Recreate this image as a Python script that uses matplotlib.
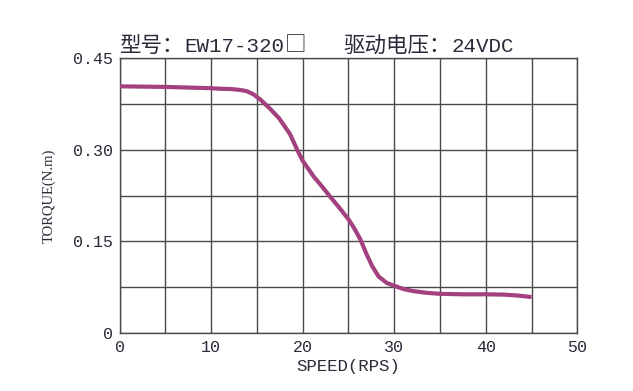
import numpy as np
import matplotlib.pyplot as plt

# speed (rps) / torque (N.m)
speed = [0, 5, 9.8, 11.0, 12.2, 13.2, 13.9, 14.6, 15.4, 16.45, 17.4, 18.6,
         19.4, 20.0, 21.2, 22.1, 23.0, 24.0, 25.0, 25.6, 26.3, 27.0, 27.6,
         28.3, 29.2, 30.0, 31.0, 32.0, 33.5, 35, 37.5, 40, 42, 43.5, 45]
torque = [0.404, 0.403, 0.401, 0.400, 0.3995, 0.398, 0.396, 0.391, 0.382,
          0.367, 0.352, 0.326, 0.300, 0.282, 0.256, 0.240, 0.223, 0.205,
          0.186, 0.172, 0.153, 0.128, 0.109, 0.092, 0.0815, 0.077, 0.0717,
          0.0685, 0.0655, 0.0638, 0.063, 0.063, 0.0625, 0.061, 0.0585]

xticks = [0, 10, 20, 30, 40, 50]
yticks = [0, 0.15, 0.30, 0.45]
ytick_labels = ["0", "0.15", "0.30", "0.45"]
# titulo em pedaços: (texto, fonte CJK?)
titulo = [("型号：", True), ("EW17-320", False), ("□", True), ("   ", False),
          ("驱动电压：", True), ("24VDC", False)]

cor_curva = '#a3407f'
cor_grade = '#4a4a4a'
cor_texto = '#2a2a3a'
fonte_mono = ['Liberation Mono']
fonte_cjk = ['Noto Sans CJK SC', 'DejaVu Sans']


def escrever_titulo(fig, x, y, pedacos):
    renderer = fig.canvas.get_renderer()
    for texto, cjk in pedacos:
        if cjk:
            t = fig.text(x, y, texto, family=fonte_cjk, fontsize=15.5,
                         color=cor_texto, ha='left', va='baseline')
        else:
            t = fig.text(x, y, texto, family=fonte_mono, fontsize=15,
                         color=cor_texto, ha='left', va='baseline')
        bb = t.get_window_extent(renderer)
        x += bb.width / fig.bbox.width


def main():
    fig = plt.figure(figsize=(6.33, 3.91), dpi=100)
    ax = fig.add_axes([0.189, 0.149, 0.723, 0.702])

    # grade: linhas a cada 5 rps e a cada 0.075 N.m
    for x in np.arange(0, 51, 5):
        ax.axvline(x, color=cor_grade, lw=1.0, zorder=1)
    for y in np.arange(0, 0.451, 0.075):
        ax.axhline(y, color=cor_grade, lw=1.0, zorder=1)

    ax.plot(speed, torque, color=cor_curva, lw=3, solid_joinstyle='round',
            solid_capstyle='butt', zorder=3)

    ax.set_xlim(0, 50)
    ax.set_ylim(0, 0.45)
    for s in ax.spines.values():
        s.set_color(cor_grade)
        s.set_linewidth(1.0)

    ax.set_xticks(xticks)
    ax.set_xticklabels([str(v) for v in xticks], family=fonte_mono, fontsize=12, color=cor_texto)
    ax.set_yticks(yticks)
    ax.set_yticklabels(ytick_labels, family=fonte_mono, fontsize=12, color=cor_texto)
    ax.tick_params(length=0, pad=5)

    ax.set_xlabel("SPEED(RPS)", family=fonte_mono, fontsize=12.5, color=cor_texto, labelpad=3)
    ax.set_ylabel("TORQUE(N.m)", family=['Liberation Serif'], fontsize=10.5,
                  color=cor_texto, labelpad=12)

    escrever_titulo(fig, 0.19, 0.868, titulo)

    fig.savefig('out.png', dpi=100)


if __name__ == "__main__":
    main()
